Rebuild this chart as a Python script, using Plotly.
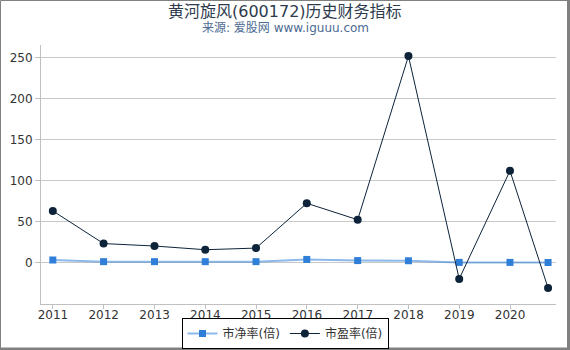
import plotly.graph_objects as go

dates = ["2010-12-31", "2011-12-31", "2012-12-31", "2013-12-31", "2014-12-31",
         "2015-12-31", "2016-12-31", "2017-12-31", "2018-12-31", "2019-12-31",
         "2020-09-30"]
pb = [3.5, 1.5, 1.5, 1.5, 1.5, 4.2, 2.8, 2.6, 0.6, 0.6, 0.5]
pe = [63.2, 23.5, 20.5, 16.0, 18.0, 72.5, 52.5, 251.5, -19.5, 112.0, -30.5]
x_ticks = ["2011-01-01", "2012-01-01", "2013-01-01", "2014-01-01", "2015-01-01",
           "2016-01-01", "2017-01-01", "2018-01-01", "2019-01-01", "2020-01-01"]
x_tick_labels = ["2011", "2012", "2013", "2014", "2015", "2016", "2017", "2018", "2019", "2020"]
y_ticks = [0, 50, 100, 150, 200, 250]

FONT = "DejaVu Sans, Noto Sans CJK SC, sans-serif"

pl, pr, pt, pbm = 41, 14, 45, 46
pw, ph = 570 - pl - pr, 350 - pt - pbm
def px_x(v):
    return (v - pl) / pw
def px_y(v):
    return 1 - (v - pt) / ph

fig = go.Figure()
fig.add_trace(go.Scatter(
    x=dates, y=pb, name="市净率(倍)", mode="lines+markers",
    line=dict(color="rgba(47,126,216,0.55)", width=2),
    marker=dict(symbol="square", size=7, color="#2f7ed8"),
))
fig.add_trace(go.Scatter(
    x=dates, y=pe, name="市盈率(倍)", mode="lines+markers",
    line=dict(color="#0d233a", width=1),
    marker=dict(symbol="circle", size=8, color="#0d233a"),
))

fig.update_layout(
    width=570, height=350,
    margin=dict(l=pl, r=pr, t=pt, b=pbm, autoexpand=False),
    paper_bgcolor="white", plot_bgcolor="white",
    font=dict(family=FONT, size=12, color="#333333"),
    showlegend=True,
    legend=dict(
        orientation="h", xref="paper", yref="paper",
        x=px_x(285), xanchor="center", y=px_y(349), yanchor="bottom",
        bordercolor="#000000", borderwidth=1,
        font=dict(size=12, color="#333333"),
        itemwidth=30, tracegroupgap=0,
    ),
    xaxis=dict(
        type="date", range=["2010-10-07", "2020-11-26"],
        tickvals=x_ticks, ticktext=x_tick_labels,
        showgrid=False, zeroline=False,
        showline=True, linecolor="#c0c0c0", linewidth=1,
        ticks="outside", ticklen=4, tickcolor="#c0c0c0",
        ticklabelstandoff=-4,
        tickfont=dict(size=12, color="#333333"),
    ),
    yaxis=dict(
        range=[-50, 265], tickvals=y_ticks,
        showgrid=True, gridcolor="#c8c8c8", gridwidth=1, zeroline=False,
        showline=True, linecolor="#c0c0c0", linewidth=1,
        ticks="outside", ticklen=5, tickcolor="#c0c0c0",
        tickfont=dict(size=12, color="#333333"),
    ),
    annotations=[
        dict(text="黄河旋风(600172)历史财务指标", xref="paper", yref="paper",
             x=px_x(285), y=px_y(11), xanchor="center", yanchor="middle", showarrow=False,
             font=dict(size=16, color="#2d3b4d", family=FONT)),
        dict(text="来源: 爱股网 www.iguuu.com", xref="paper", yref="paper",
             x=px_x(285), y=px_y(28), xanchor="center", yanchor="middle", showarrow=False,
             font=dict(size=12, color="#4d6a92", family=FONT)),
    ],
)

# outer frame
fig.add_shape(type="rect", xref="paper", yref="paper",
              x0=px_x(0.5), x1=px_x(568), y0=px_y(348), y1=px_y(0.5),
              line=dict(color="#808080", width=1), layer="below")
fig.add_shape(type="line", xref="paper", yref="paper",
              x0=px_x(568.5), x1=px_x(568.5), y0=px_y(350), y1=px_y(0),
              line=dict(color="#808080", width=3), layer="below")
fig.add_shape(type="line", xref="paper", yref="paper",
              x0=px_x(0), x1=px_x(570), y0=px_y(349), y1=px_y(349),
              line=dict(color="#808080", width=2), layer="below")

fig.write_html("out.html")
